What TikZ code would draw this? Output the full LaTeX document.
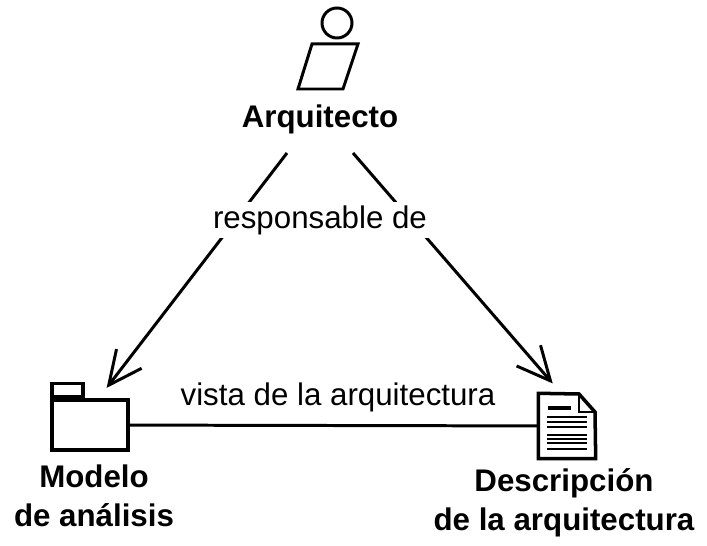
\documentclass[tikz,border=0pt]{standalone}
\usepackage{fontspec}
\setmainfont{Liberation Sans}
\usetikzlibrary{arrows.meta}
\begin{document}
\begin{tikzpicture}[
  linea/.style={line width=0.85pt,black},
  arr/.style={linea,-{Straight Barb[length=9.5pt,width=9pt,line width=0.85pt]},shorten >=0.13cm},
  forma/.style={rectangle,draw,line width=1pt,inner sep=0pt,fill=white},
  titulo/.style={align=center,font=\fontsize{8.9}{11}\selectfont\bfseries,inner sep=0pt},
  etiqueta/.style={font=\fontsize{8.9}{11}\selectfont,inner sep=1pt}]

  \useasboundingbox (0,0) rectangle (7.07,-5.46);

  % actor
  \node[circle,draw,line width=0.85pt,minimum size=0.30cm,inner sep=0pt] (cabeza) at (3.37,-0.23) {};
  \draw[linea] (3.12,-0.44) -- (3.58,-0.44) -- (3.43,-0.89) -- (2.98,-0.89) -- cycle;
  \node[titulo] (arq) at (3.20,-1.19) {Arquitecto};
  \coordinate (arqizq) at (2.87,-1.53);
  \coordinate (arqder) at (3.53,-1.53);

  % carpeta
  \node[forma,minimum width=0.76cm,minimum height=0.50cm] (modelo) at (0.90,-4.25) {};
  \node[forma,anchor=south west,minimum width=0.31cm,minimum height=0.13cm] (pestana) at (modelo.north west) {};
  \node[titulo] (modelotxt) at (0.94,-4.96) {Modelo\\de análisis};

  % documento
  \node[minimum width=0.56cm,minimum height=0.64cm,inner sep=0pt] (doc) at (5.67,-4.26) {};
  \draw[line width=1pt] (doc.north west) -- (5.79,-3.94) -- (5.95,-4.12) -- (doc.south east) -- (doc.south west) -- cycle;
  \draw[line width=0.7pt] (5.79,-3.94) -- (5.79,-4.12) -- (5.95,-4.12);
  \draw[line width=1pt] (5.48,-4.08) -- (5.71,-4.08);
  \foreach \y in {4.17,4.22,4.27,4.35,4.39,4.43,4.49}
    \draw[line width=0.7pt] (5.47,-\y) -- (5.87,-\y);
  \node[titulo] (doctxt) at (5.64,-5.03) {Descripción\\de la arquitectura};

  \draw[arr] (arqizq) -- (modelo.72);
  \draw[arr] (arqder) -- (doc.100);
  \draw[linea] (modelo) -- (doc);

  \node[etiqueta,fill=white] (resp) at (3.20,-2.20) {responsable de};
  \node[etiqueta] (vista) at (3.38,-3.97) {vista de la arquitectura};
\end{tikzpicture}
\end{document}
